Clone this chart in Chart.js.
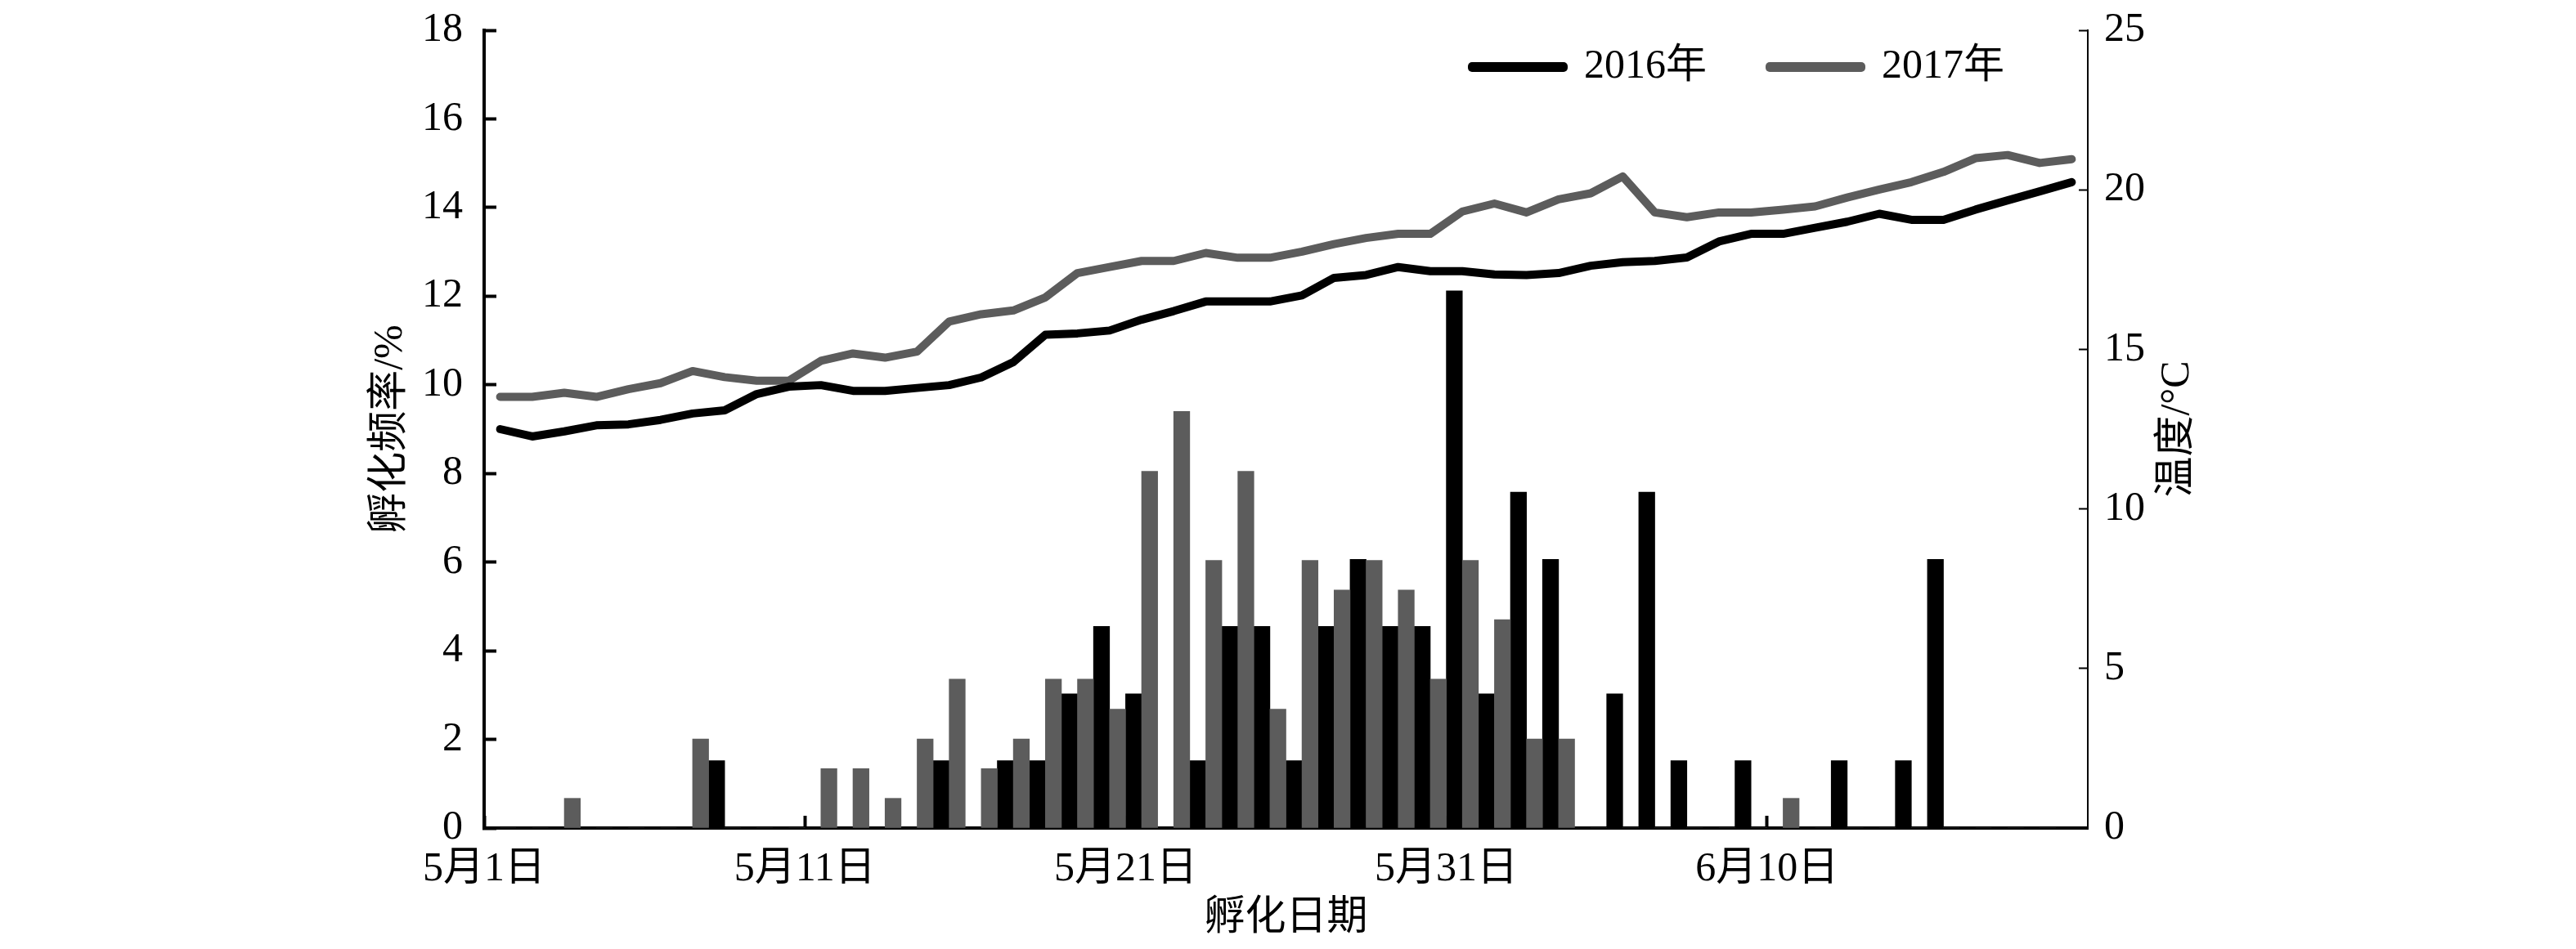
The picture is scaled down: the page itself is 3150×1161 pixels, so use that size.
<!DOCTYPE html>
<html><head><meta charset="utf-8">
<script src="https://cdn.jsdelivr.net/npm/chart.js@4.4.1/dist/chart.umd.min.js"></script>
<style>html,body{margin:0;padding:0;background:#fff;}#wrap{width:3150px;height:1161px;}</style>
</head><body><div id="wrap"><canvas id="c" width="3150" height="1161"></canvas></div>
<script>
// ---- categories: hatch dates 5月1日 ... 6月19日 ----
const days = [];
for (let i = 0; i < 50; i++) { const d = new Date(2016, 4, 1 + i); days.push((d.getMonth() + 1) + '月' + d.getDate() + '日'); }
const seriesNames = ['2016年', '2017年'];

// ---- hatching frequency (%) per day ----
const freq2016 = [0,0,0,0,0,0,0,1.52,0,0,
  0,0,0,0,1.52,0,1.52,1.52,3.03,4.55,
  3.03,0,1.52,4.55,4.55,1.52,4.55,6.06,4.55,4.55,
  12.12,3.03,7.58,6.06,0,3.03,7.58,1.52,0,1.52,
  0,0,1.52,0,1.52,6.06,0,0,0,0];
const freq2017 = [0,0,0,0.67,0,0,0,2.01,0,0,
  0,1.34,1.34,0.67,2.01,3.36,1.34,2.01,3.36,3.36,
  2.68,8.05,9.40,6.04,8.05,2.68,6.04,5.37,6.04,5.37,
  3.36,6.04,4.70,2.01,2.01,0,0,0,0,0,
  0,0.67,0,0,0,0,0,0,0,0];

// ---- daily temperature (°C) ----
const temp2016 = [12.50,12.27,12.43,12.62,12.65,12.79,12.99,13.09,13.60,13.83,
  13.88,13.70,13.70,13.79,13.88,14.12,14.60,15.46,15.50,15.59,
  15.93,16.20,16.50,16.50,16.50,16.69,17.24,17.33,17.58,17.45,
  17.45,17.35,17.33,17.39,17.62,17.73,17.77,17.88,18.38,18.62,
  18.62,18.81,19.00,19.25,19.06,19.06,19.38,19.67,19.95,20.24];
const temp2017 = [13.51,13.51,13.64,13.51,13.75,13.94,14.32,14.13,14.02,14.02,
  14.64,14.87,14.74,14.93,15.87,16.10,16.22,16.63,17.39,17.58,
  17.77,17.77,18.02,17.87,17.87,18.06,18.30,18.49,18.62,18.62,
  19.32,19.57,19.29,19.70,19.89,20.42,19.29,19.14,19.29,19.29,
  19.38,19.48,19.76,20.01,20.24,20.56,20.99,21.09,20.84,20.96];

const BLACK = '#000000', GRAY = '#5c5c5c';
const FONT = '"Liberation Serif", "Noto Sans CJK SC", serif';
Chart.defaults.font.family = FONT;
Chart.defaults.font.size = 50;
Chart.defaults.color = '#000';

const barPts = arr => arr.map((v, i) => ({x: i, y: v}));
const linePts = arr => arr.map((v, i) => ({x: i + 0.5, y: v}));

const legendPlace = {
  id: 'legendPlace',
  afterLayout(chart) {
    const L = chart.legend;
    L.left = 1723; L.right = 3100; L.top = -20; L.bottom = 200;
    L.width = L.right - L.left; L.height = L.bottom - L.top;
  }
};
const rightTitle = {
  id: 'rightTitle',
  afterDraw(chart) {
    const s = chart.scales.y1, a = chart.chartArea, ctx = chart.ctx;
    ctx.save();
    ctx.translate(s.left + 110, (a.top + a.bottom) / 2);
    ctx.rotate(-Math.PI / 2);
    ctx.font = '50px ' + FONT;
    ctx.fillStyle = '#000';
    ctx.textAlign = 'center'; ctx.textBaseline = 'middle';
    ctx.fillText('温度/°C', 0, 0);
    ctx.restore();
  }
};
const noPad = s => { s.paddingTop = 0; s.paddingBottom = 0; };

new Chart(document.getElementById('c'), {
  type: 'bar',
  data: {
    datasets: [
      {type: 'line', label: seriesNames[0], data: linePts(temp2016), yAxisID: 'y1', order: 0,
       borderColor: BLACK, backgroundColor: BLACK, borderWidth: 10, pointRadius: 0, tension: 0,
       borderJoinStyle: 'round', borderCapStyle: 'round', fill: false},
      {type: 'line', label: seriesNames[1], data: linePts(temp2017), yAxisID: 'y1', order: 0,
       borderColor: GRAY, backgroundColor: GRAY, borderWidth: 10, pointRadius: 0, tension: 0,
       borderJoinStyle: 'round', borderCapStyle: 'round', fill: false},
      {type: 'bar', label: seriesNames[1], data: barPts(freq2017), yAxisID: 'y', order: 1,
       backgroundColor: GRAY, borderWidth: 0, categoryPercentage: 1, barPercentage: 1},
      {type: 'bar', label: seriesNames[0], data: barPts(freq2016), yAxisID: 'y', order: 1,
       backgroundColor: BLACK, borderWidth: 0, categoryPercentage: 1, barPercentage: 1}
    ]
  },
  options: {
    responsive: false, animation: false, devicePixelRatio: 1,
    layout: {padding: {top: 37, left: 0, right: 0, bottom: 0}},
    plugins: {
      tooltip: {enabled: false},
      legend: {
        display: true, position: 'top', align: 'start', maxHeight: 0.001,
        labels: {
          boxWidth: 112, boxHeight: 2, padding: 77, font: {size: 50},
          filter: (item, data) => data.datasets[item.datasetIndex].type === 'line'
        }
      }
    },
    scales: {
      x: {
        type: 'linear', min: 0, max: 50, offset: false,
        afterFit: s => { s.height = 148; },
        border: {display: true, width: 4, color: '#000'},
        grid: {drawOnChartArea: false, drawTicks: true, tickLength: -15, tickWidth: 4, color: '#000', offset: false},
        ticks: {stepSize: 10, maxRotation: 0, autoSkip: false, padding: 36,
          callback: v => (v < days.length ? days[v] : null)},
        title: {display: true, text: '孵化日期', padding: {top: 0, bottom: 7}}
      },
      y: {
        type: 'linear', position: 'left', min: 0, max: 18,
        afterFit: s => { s.width = 592; noPad(s); },
        border: {display: true, width: 4, color: '#000'},
        grid: {drawOnChartArea: false, tickLength: -15, tickWidth: 4, color: '#000'},
        ticks: {stepSize: 2, padding: 41},
        title: {display: true, text: '孵化频率/%', padding: {top: 448, bottom: 0}}
      },
      y1: {
        type: 'linear', position: 'right', min: 0, max: 25,
        afterFit: s => { s.width = 597; noPad(s); },
        border: {display: true, width: 2, color: '#000'},
        grid: {drawOnChartArea: false, tickLength: -11, tickWidth: 2, color: '#000'},
        ticks: {stepSize: 5, padding: 31}
      }
    }
  },
  plugins: [legendPlace, rightTitle]
});
</script></body></html>
